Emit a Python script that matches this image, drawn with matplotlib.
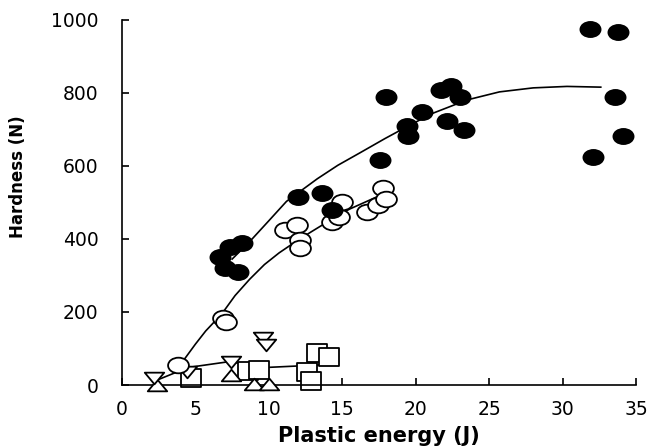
import matplotlib
matplotlib.use("Agg")
import matplotlib.pyplot as plt
from matplotlib.path import Path
from matplotlib.transforms import Affine2D

# solid circles
filled_x = [6.7, 7.0, 7.35, 7.9, 8.2, 12.0, 13.6, 14.3, 17.6, 18.0, 19.4, 19.5,
            20.4, 21.7, 22.1, 22.4, 23.0, 23.3, 31.9, 32.1, 33.6, 33.8, 34.1]
filled_y = [351, 320, 378, 310, 389, 515, 525, 480, 616, 789, 710, 682,
            749, 808, 724, 819, 789, 699, 975, 625, 789, 968, 682]

# open circles
open_x = [3.8, 6.9, 7.1, 11.1, 11.9, 12.1, 12.1, 14.3, 14.8, 15.0, 16.7, 17.4, 17.8, 18.0]
open_y = [55, 184, 173, 425, 438, 397, 375, 447, 460, 501, 474, 493, 540, 510]

# triangles down / up, squares
tdown_x = [2.2, 4.4, 7.4, 9.6, 9.8]
tdown_y = [18, 36, 64, 128, 110]
tup_x = [2.4, 7.4, 9.0, 10.0]
tup_y = [0, 27, 3, 3]
sq_x = [4.7, 8.6, 9.3, 12.6, 12.9, 13.3, 14.1]
sq_y = [18, 38, 40, 36, 10, 87, 77]

# fitted curves
fit1_x = [7.5, 8.7, 10.0, 11.2, 13.3, 14.7, 16.2, 17.9, 19.6, 21.2, 23.5, 25.7, 28.0, 30.3, 32.6]
fit1_y = [345, 393, 450, 503, 565, 602, 636, 675, 712, 745, 781, 803, 814, 818, 816]
fit2_x = [4.2, 5.0, 5.7, 6.8, 7.7, 8.7, 9.7, 10.7, 11.8, 12.9, 14.2, 15.5, 16.5, 17.5]
fit2_y = [68, 112, 148, 195, 245, 290, 330, 362, 392, 420, 452, 482, 500, 518]
fit3_x = [2.3, 4.5, 7.3, 9.8, 13.5]
fit3_y = [12, 48, 64, 48, 55]

ellipse = Path.unit_circle().transformed(Affine2D().scale(1, 0.75))
tri_down = Path([(-1, 0.6), (1, 0.6), (0, -0.6), (-1, 0.6)],
                [Path.MOVETO, Path.LINETO, Path.LINETO, Path.CLOSEPOLY])
tri_up = Path([(-1, -0.6), (1, -0.6), (0, 0.6), (-1, -0.6)],
              [Path.MOVETO, Path.LINETO, Path.LINETO, Path.CLOSEPOLY])
square = Path([(-1, -0.95), (1, -0.95), (1, 0.95), (-1, 0.95), (-1, -0.95)],
              [Path.MOVETO, Path.LINETO, Path.LINETO, Path.LINETO, Path.CLOSEPOLY])

fig = plt.figure(figsize=(6.53, 4.47), dpi=100)
ax = fig.add_axes([0.1868, 0.1387, 0.7872, 0.8166])

for fx, fy in [(fit1_x, fit1_y), (fit2_x, fit2_y), (fit3_x, fit3_y)]:
    ax.plot(fx, fy, color='black', lw=1.2, zorder=1)

mk = dict(linestyle='none', markeredgecolor='black', markeredgewidth=1.3, clip_on=False)
ax.plot(sq_x, sq_y, marker=square, markersize=14, markerfacecolor='white', zorder=2, **mk)
ax.plot(tup_x, tup_y, marker=tri_up, markersize=14, markerfacecolor='white', zorder=3, **mk)
ax.plot(tdown_x, tdown_y, marker=tri_down, markersize=14, markerfacecolor='white', zorder=3, **mk)
ax.plot(open_x, open_y, marker=ellipse, markersize=15, markerfacecolor='white', zorder=4, **mk)
ax.plot(filled_x, filled_y, marker=ellipse, markersize=14.5, markerfacecolor='black', zorder=5, **mk)

ax.set_xlim(0, 35)
ax.set_ylim(0, 1000)
ax.set_xticks(range(0, 36, 5))
ax.set_yticks(range(0, 1001, 200))
for s in ['top', 'right']:
    ax.spines[s].set_visible(False)
for s in ['left', 'bottom']:
    ax.spines[s].set_linewidth(1.2)
ax.tick_params(axis='both', direction='in', length=5, width=1.2, labelsize=13.5)
ax.tick_params(axis='x', pad=11)
ax.tick_params(axis='y', pad=17)

ax.set_xlabel('Plastic energy (J)', fontsize=15, fontweight='bold', labelpad=5)
fig.text(0.028, 0.604, 'Hardness (N)', rotation=90, ha='center', va='center',
         fontsize=12, fontweight='bold')

fig.savefig('out.png', dpi=100)
